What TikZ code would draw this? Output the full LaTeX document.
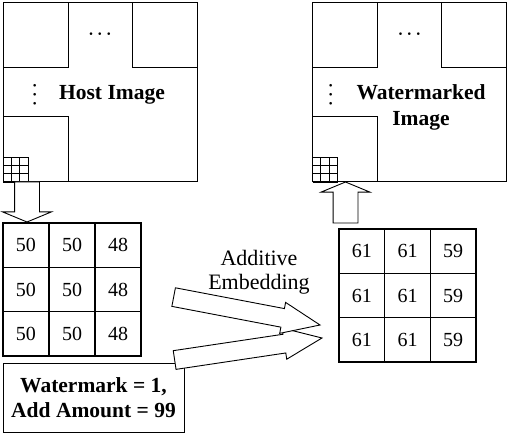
\documentclass[tikz,border=0pt]{standalone}
\usepackage{fontspec}
\setmainfont{Liberation Serif}
\usetikzlibrary{positioning,calc,shapes.arrows}

\begin{document}
\begin{tikzpicture}[x=1pt,y=1pt,
  img/.style={draw,line width=1pt,minimum width=194pt,minimum height=179pt,inner sep=0pt,outer sep=0pt},
  blk/.style={draw,line width=1pt,minimum size=65pt,inner sep=0pt,outer sep=0pt},
  cell/.style={draw,line width=1.4pt,minimum width=46pt,minimum height=44.3pt,inner sep=0pt,font=\fontsize{20}{22}\selectfont},
  fat/.style={single arrow,draw,fill=white,line width=0.9pt,outer sep=0pt,inner sep=9pt,
    single arrow head extend=6.3pt,single arrow tip angle=45,minimum height=149pt},
  updown/.style={single arrow,draw,fill=white,line width=0.9pt,outer sep=0pt,inner sep=12pt,
    single arrow head extend=12pt,single arrow tip angle=135},
  lbl/.style={font=\fontsize{22}{24}\selectfont,align=center},
  bl/.style={font=\fontsize{21.5}{25.5}\selectfont\bfseries,align=center},
  dots/.style={font=\fontsize{17}{17}\selectfont\boldmath,inner sep=0pt}]
\useasboundingbox (0,0) rectangle (508,434);

% host image
\node[img] (host) at (100,341.5) {};
\node[blk,anchor=north west] (hostTL) at (host.north west) {};
\node[blk,anchor=north east] (hostTR) at (host.north east) {};
\node[blk,anchor=south west] (hostBL) at (host.south west) {};
\coordinate (hostG) at (host.south west);
\draw[line width=0.9pt] \foreach \i in {0,...,3}{($(hostG)+(\i*8.33,0)$) -- ++(0,25) ($(hostG)+(0,\i*8.33)$) -- ++(25,0)};
\node[dots] (hostH) at ($(hostTL.east)!0.5!(hostTR.west)+(0,1)$) {$\cdots$};
\node[dots,rotate=90] (hostV) at (35,339) {$\cdots$};
\node[bl] (hostT) at (112,339) {Host Image};

% watermarked image
\node[img] (wm) at (409.5,341.5) {};
\node[blk,anchor=north west] (wmTL) at (wm.north west) {};
\node[blk,anchor=north east] (wmTR) at (wm.north east) {};
\node[blk,anchor=south west] (wmBL) at (wm.south west) {};
\coordinate (wmG) at (wm.south west);
\draw[line width=0.9pt] \foreach \i in {0,...,3}{($(wmG)+(\i*8.33,0)$) -- ++(0,25) ($(wmG)+(0,\i*8.33)$) -- ++(25,0)};
\node[dots] (wmH) at ($(wmTL.east)!0.5!(wmTR.west)+(0,1)$) {$\cdots$};
\node[dots,rotate=90] (wmV) at (331,339) {$\cdots$};
\node[bl] (wmT) at (421,326.5) {Watermarked\\Image};

% pixel blocks
\foreach \r in {1,2,3}{
  \foreach \c/\v in {1/50,2/50,3/48}
    \node[cell] (a-\r-\c) at ({72+(\c-2)*46},{144.5-(\r-2)*44.3}) {\v};
  \foreach \c/\v in {1/61,2/61,3/59}
    \node[cell,minimum width=45.7pt] (b-\r-\c) at ({407.5+(\c-2)*45.7},{138.5-(\r-2)*44.3}) {\v};
}

\node[bl,draw,line width=1pt,minimum width=181pt,minimum height=69pt] (wmk) at (93.5,36.5) {Watermark = 1,\\Add Amount = 99};

% arrows
\node[updown,rotate=-90,anchor=tail,minimum height=40pt] (down) at ($(host.south west)+(24,0)$) {};
\node[updown,rotate=90,anchor=tip,minimum height=41pt] (up) at ($(wm.south west)+(33,0)$) {};
\node[fat,rotate=8.5,anchor=tip] (emb2) at (322,96) {};
\node[fat,rotate=-10.8,anchor=tip] (emb1) at (320,109) {};
\node[lbl] (add) at (259,162) {Additive\\Embedding};
\end{tikzpicture}
\end{document}
